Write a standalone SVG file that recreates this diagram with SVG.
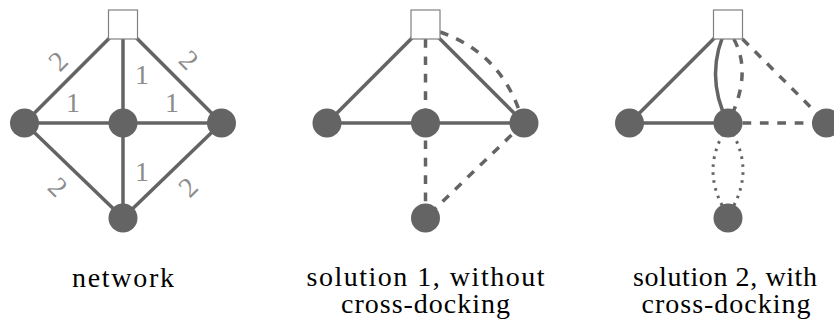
<svg xmlns="http://www.w3.org/2000/svg" width="834" height="320" viewBox="0 0 834 320">
  <style>
    .edge { fill: none; stroke: #646464; stroke-width: 3.5; }
    .dash { stroke-dasharray: 8.7 8.7; }
    .dot { stroke-width: 3; stroke-dasharray: 2.6 5.4; }
    .node { fill: #646464; }
    .depot { fill: #ffffff; stroke: #808080; stroke-width: 1.2; }
    .wlabel { font-family: 'Liberation Serif', 'Times New Roman', serif; font-size: 28px; fill: #8c8c8c; text-anchor: middle; }
    .caption { font-family: 'Liberation Serif', 'Times New Roman', serif; font-size: 28px; fill: #000000; text-anchor: middle; }
  </style>
  <defs>
    <circle id="stop" r="14.5" class="node"/>
    <rect id="hub" x="-14.5" y="10" width="29" height="29" class="depot"/>
  </defs>

  <!-- Panel 1: network with edge weights -->
  <g id="network" transform="translate(123,0)">
    <g id="network-edges">
      <line class="edge" x1="0" y1="24.5" x2="-98.5" y2="123"/>
      <line class="edge" x1="0" y1="24.5" x2="0" y2="123"/>
      <line class="edge" x1="0" y1="24.5" x2="98.5" y2="123"/>
      <line class="edge" x1="-98.5" y1="123" x2="98.5" y2="123"/>
      <line class="edge" x1="-98.5" y1="123" x2="0" y2="218"/>
      <line class="edge" x1="0" y1="123" x2="0" y2="218"/>
      <line class="edge" x1="98.5" y1="123" x2="0" y2="218"/>
    </g>
    <g id="n1-depot"><use href="#hub"/></g>
    <g id="n1-left"><use href="#stop" x="-98.5" y="123"/></g>
    <g id="n1-mid"><use href="#stop" x="0" y="123"/></g>
    <g id="n1-right"><use href="#stop" x="98.5" y="123"/></g>
    <g id="n1-bottom"><use href="#stop" x="0" y="218"/></g>
  </g>

  <!-- edge weights of the network -->
  <g id="network-weights">
    <text class="wlabel" transform="translate(58,61) rotate(-45)" y="9.5">2</text>
    <text class="wlabel" transform="translate(189,60) rotate(45)" y="9.5">2</text>
    <text class="wlabel" transform="translate(58,187) rotate(45)" y="9.5">2</text>
    <text class="wlabel" transform="translate(188,187) rotate(-45)" y="9.5">2</text>
    <text class="wlabel" x="73" y="112">1</text>
    <text class="wlabel" x="172" y="112">1</text>
    <text class="wlabel" x="142" y="84">1</text>
    <text class="wlabel" x="142" y="181">1</text>
  </g>

  <!-- Panel 2: solution without cross-docking -->
  <g id="solution1" transform="translate(425.5,0)">
    <g id="solution1-edges">
      <line class="edge" x1="0" y1="24.5" x2="-98.5" y2="123"/>
      <line class="edge" x1="0" y1="24.5" x2="98.5" y2="123"/>
      <line class="edge" x1="-98.5" y1="123" x2="98.5" y2="123"/>
      <line class="edge dash" x1="0" y1="39" x2="0" y2="123"/>
      <path class="edge dash" d="M14.5,32 Q72.5,52 93.5,110"/>
      <line class="edge dash" x1="0" y1="123" x2="0" y2="218"/>
      <line class="edge dash" x1="98.5" y1="123" x2="0" y2="218"/>
    </g>
    <g id="n2-depot"><use href="#hub"/></g>
    <g id="n2-left"><use href="#stop" x="-98.5" y="123"/></g>
    <g id="n2-mid"><use href="#stop" x="0" y="123"/></g>
    <g id="n2-right"><use href="#stop" x="98.5" y="123"/></g>
    <g id="n2-bottom"><use href="#stop" x="0" y="218"/></g>
  </g>

  <!-- Panel 3: solution with cross-docking -->
  <g id="solution2" transform="translate(728,0)">
    <g id="solution2-edges">
      <line class="edge" x1="0" y1="24.5" x2="-98.5" y2="123"/>
      <line class="edge" x1="-98.5" y1="123" x2="0" y2="123"/>
      <path class="edge" d="M0,24.5 Q-25,74 0,123"/>
      <path class="edge dash" d="M5.8,39 Q25,74 0,123"/>
      <line class="edge dash" x1="14.5" y1="39" x2="98.5" y2="123"/>
      <line class="edge dash" x1="14.5" y1="123" x2="98.5" y2="123"/>
      <path class="edge dot" d="M-5,134 Q-25,170.5 -5,207"/>
      <path class="edge dot" d="M5,134 Q25,170.5 5,207"/>
    </g>
    <g id="n3-depot"><use href="#hub"/></g>
    <g id="n3-left"><use href="#stop" x="-98.5" y="123"/></g>
    <g id="n3-mid"><use href="#stop" x="0" y="123"/></g>
    <g id="n3-right"><use href="#stop" x="98.5" y="123"/></g>
    <g id="n3-bottom"><use href="#stop" x="0" y="218"/></g>
  </g>

  <!-- panel captions -->
  <text class="caption" x="123" y="287" textLength="102" lengthAdjust="spacing">network</text>
  <text class="caption" x="425.5" y="286" textLength="238" lengthAdjust="spacing">solution 1, without</text>
  <text class="caption" x="425.5" y="313" textLength="169" lengthAdjust="spacing">cross-docking</text>
  <text class="caption" x="725" y="286" textLength="184" lengthAdjust="spacing">solution 2, with</text>
  <text class="caption" x="726" y="313" textLength="169" lengthAdjust="spacing">cross-docking</text>
</svg>
